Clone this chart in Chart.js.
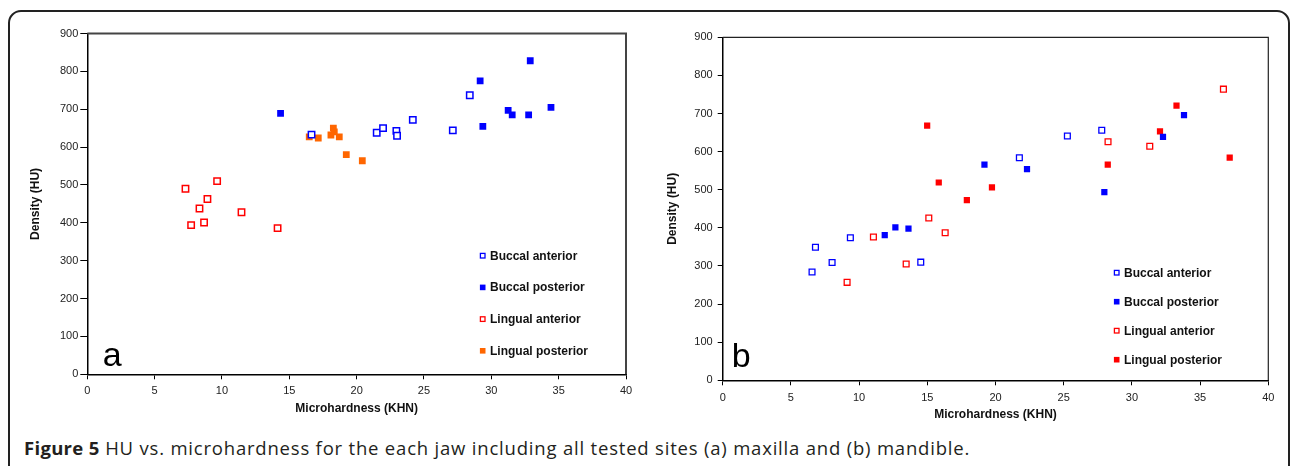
<!DOCTYPE html>
<html>
<head>
<meta charset="utf-8">
<script src="https://cdn.jsdelivr.net/npm/chart.js@4.4.1/dist/chart.umd.min.js"></script>
<style>
  html, body { margin:0; padding:0; background:#fff; width:1290px; height:466px; overflow:hidden; }
  #frame { position:absolute; left:8px; top:10px; width:1282px; height:520px; box-sizing:border-box;
           border:2px solid #222; border-radius:13px; }
  #ca { position:absolute; left:0; top:0; }
  #cb { position:absolute; left:640px; top:0; }
  #caption { position:absolute; left:24px; top:435px; font-family:"Open Sans", sans-serif; font-size:18.5px;
             letter-spacing:0.8px; color:#231f20; white-space:nowrap; }
  #caption b { font-weight:700; letter-spacing:0.3px; }
</style>
</head>
<body>
<div id="frame"></div>
<canvas id="ca" width="660" height="420" style="width:660px;height:420px"></canvas>
<canvas id="cb" width="650" height="430" style="width:650px;height:430px"></canvas>
<div id="caption"><b>Figure 5</b> HU vs. microhardness for the each jaw including all tested sites (a) maxilla and (b) mandible.</div>
<script>
// ---- Shared labels ----
const seriesNames = ["Buccal anterior", "Buccal posterior", "Lingual anterior", "Lingual posterior"];
const xTicksStep = 5, xMin = 0, xMax = 40;
const yTicksStep = 100, yMin = 0, yMax = 900;
const xTitle = "Microhardness (KHN)";
const yTitle = "Density (HU)";

// ---- Data: panel a (maxilla) ----
const aBuccalAnteriorX  = [16.65, 21.49, 21.96, 22.95, 23.0, 24.17, 27.14, 28.4];
const aBuccalAnteriorY  = [633, 638, 650, 643, 630, 672, 644, 737];
const aBuccalPosteriorX = [14.35, 29.17, 29.37, 31.25, 31.55, 32.77, 32.89, 34.43];
const aBuccalPosteriorY = [689, 775, 655, 697, 685, 685, 828, 705];
const aLingualAnteriorX = [7.29, 7.71, 8.33, 8.67, 8.92, 9.64, 11.45, 14.13];
const aLingualAnteriorY = [490, 394, 438, 401, 463, 510, 428, 386];
const aLingualPosteriorX = [16.48, 17.15, 18.09, 18.27, 18.34, 18.71, 19.23, 20.42];
const aLingualPosteriorY = [627, 624, 632, 650, 640, 627, 580, 564];

// ---- Data: panel b (mandible) ----
const bBuccalAnteriorX  = [6.55, 6.8, 8.02, 9.36, 14.52, 21.75, 25.27, 27.79];
const bBuccalAnteriorY  = [284, 349, 309, 374, 310, 584, 641, 656];
const bBuccalPosteriorX = [11.88, 12.66, 13.62, 19.19, 22.31, 27.98, 32.28, 33.82];
const bBuccalPosteriorY = [381, 401, 398, 566, 554, 494, 639, 696];
const bLingualAnteriorX = [9.12, 11.05, 13.45, 15.11, 16.31, 28.25, 31.31, 36.71];
const bLingualAnteriorY = [257, 376, 305, 426, 387, 626, 614, 764];
const bLingualPosteriorX = [14.99, 15.84, 17.9, 19.74, 28.23, 32.06, 33.27, 37.17];
const bLingualPosteriorY = [668, 519, 473, 506, 566, 653, 721, 584];

function pts(xs, ys) { return xs.map((x, i) => ({x: x, y: ys[i]})); }

const BLUE = "#0000ff", RED = "#ff0000", ORANGE = "#ff6600";

function makeDatasets(sets, colors, r, bw) {
  return sets.map((s, i) => {
    const open = (i % 2 === 0);
    return {
      label: seriesNames[i],
      data: pts(s[0], s[1]),
      pointStyle: 'rect',
      pointRadius: open ? r - 0.3 : r,
      pointBorderWidth: open ? bw : 0,
      borderColor: colors[i],
      backgroundColor: open ? "#ffffff" : colors[i],
      pointBackgroundColor: open ? "#ffffff" : colors[i],
      pointBorderColor: colors[i],
      showLine: false
    };
  });
}

const decoPlugin = {
  id: 'deco',
  afterDraw(chart, args, o) {
    const ctx = chart.ctx, ca = chart.chartArea;
    ctx.save();
    ctx.strokeStyle = o.frameColor; ctx.lineWidth = o.frameWidth;
    ctx.beginPath();
    ctx.moveTo(ca.left, ca.top); ctx.lineTo(ca.right, ca.top); ctx.lineTo(ca.right, ca.bottom);
    ctx.stroke();
    ctx.fillStyle = "#000";
    ctx.font = "34px 'Liberation Sans', Arial, sans-serif";
    ctx.textAlign = "left"; ctx.textBaseline = "alphabetic";
    ctx.fillText(o.letter, ca.left + o.letterDx, ca.bottom - o.letterDy);
    ctx.font = "bold 12px 'Liberation Sans', Arial, sans-serif";
    ctx.textBaseline = "middle";
    chart.data.datasets.forEach((ds, i) => {
      const cx = ca.left + o.legX, cy = ca.bottom - o.legY0 + i * o.legDY;
      const s = 5.6;
      if (ds.pointBorderWidth > 0) {
        ctx.fillStyle = "#fff"; ctx.fillRect(cx - s/2, cy - s/2, s, s);
        ctx.strokeStyle = ds.pointBorderColor; ctx.lineWidth = 1.3;
        ctx.strokeRect(cx - s/2 + 0.5, cy - s/2 + 0.5, s - 1, s - 1);
      } else {
        ctx.fillStyle = ds.pointBackgroundColor; ctx.fillRect(cx - s/2, cy - s/2, s, s);
      }
      ctx.fillStyle = "#111";
      ctx.fillText(ds.label, cx + o.legTextDx, cy + 0.5);
    });
    ctx.restore();
  }
};

function makeChart(id, datasets, cfg) {
  const tickFont = {family: "'Liberation Sans', Arial, sans-serif", size: 11};
  const titleFont = {family: "'Liberation Sans', Arial, sans-serif", size: 12, weight: 'bold'};
  return new Chart(document.getElementById(id), {
    type: 'scatter',
    data: {datasets: datasets},
    plugins: [decoPlugin],
    options: {
      responsive: false, animation: false,
      layout: {padding: cfg.padding},
      plugins: {legend: {display: false}, tooltip: {enabled: false}, deco: cfg.deco},
      scales: {
        x: {
          type: 'linear', min: xMin, max: xMax,
          ticks: {stepSize: xTicksStep, font: tickFont, color: "#222", padding: cfg.xTickPad, maxRotation: 0},
          grid: {drawOnChartArea: false, drawTicks: true, tickLength: cfg.xTickLen, tickColor: "#000", tickWidth: 1},
          border: {color: "#000", width: 1.5},
          title: {display: true, text: xTitle, font: titleFont, color: "#111", padding: {top: 0, bottom: cfg.xTitlePad}},
          afterFit: s => { s.height = cfg.xH; }
        },
        y: {
          type: 'linear', min: yMin, max: yMax,
          ticks: {stepSize: yTicksStep, font: tickFont, color: "#222", padding: cfg.yTickPad},
          grid: {drawOnChartArea: false, drawTicks: true, tickLength: cfg.yTickLen, tickColor: "#000", tickWidth: 1},
          border: {color: "#000", width: 1.5},
          title: {display: true, text: yTitle, font: titleFont, color: "#111", padding: {top: cfg.yTitlePad, bottom: 0}},
          afterFit: s => { s.width = cfg.yW; }
        }
      }
    }
  });
}

makeChart('ca',
  makeDatasets([[aBuccalAnteriorX, aBuccalAnteriorY], [aBuccalPosteriorX, aBuccalPosteriorY],
                [aLingualAnteriorX, aLingualAnteriorY], [aLingualPosteriorX, aLingualPosteriorY]],
               [BLUE, BLUE, RED, ORANGE], 4.8, 1.5),
  {padding: {left: 27.3, top: 33.5, right: 34, bottom: 0.7}, yW: 60, xH: 45,
   xTickPad: 5, xTickLen: 5, yTickPad: 2, yTickLen: 7, xTitlePad: 3, yTitlePad: 1,
   deco: {frameColor: "#444", frameWidth: 2, letter: "a", letterDx: 15.4, letterDy: 8.6,
          legX: 395.4, legY0: 118.6, legDY: 31.7, legTextDx: 7.3}});

makeChart('cb',
  makeDatasets([[bBuccalAnteriorX, bBuccalAnteriorY], [bBuccalPosteriorX, bBuccalPosteriorY],
                [bLingualAnteriorX, bLingualAnteriorY], [bLingualPosteriorX, bLingualPosteriorY]],
               [BLUE, BLUE, RED, RED], 4.4, 1.3),
  {padding: {left: 22.7, top: 37.3, right: 21.7, bottom: 4.7}, yW: 60, xH: 45,
   xTickPad: 6, xTickLen: 5, yTickPad: 5, yTickLen: 5, xTitlePad: 3.7, yTitlePad: 2.7,
   deco: {frameColor: "#222", frameWidth: 1.2, letter: "b", letterDx: 9, letterDy: 13.6,
          legX: 394, legY0: 107.6, legDY: 29, legTextDx: 7.3}});
</script>
</body>
</html>
